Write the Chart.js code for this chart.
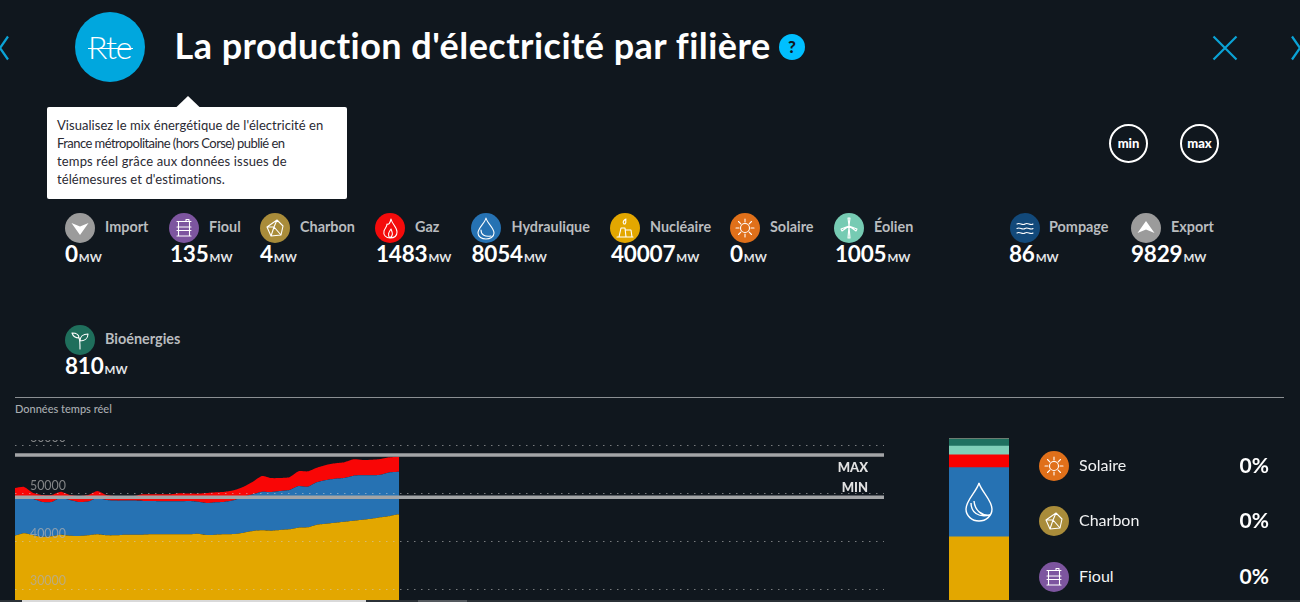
<!DOCTYPE html>
<html lang="fr">
<head>
<meta charset="utf-8">
<title>La production d'électricité par filière</title>
<script src="https://cdn.jsdelivr.net/npm/chart.js@4"></script>
<style>
html,body{margin:0;padding:0;background:#10171e;width:1300px;height:602px;overflow:hidden}
body{position:relative;font-family:Lato,"Noto Sans",sans-serif;color:#fff;font-variant-ligatures:none}
.a{position:absolute;white-space:nowrap}
.c{position:absolute;border-radius:50%}
.c svg{display:block;width:100%;height:100%}
canvas{position:absolute}
.lab{font-size:14.4px;font-weight:700;color:#b9bcbf;line-height:18px}
.val{font-size:22.5px;font-weight:700;color:#fff;line-height:26px;letter-spacing:-.2px}
.val small{font-size:11.5px;font-weight:700;color:#e4e6e8;margin-left:1px;letter-spacing:0}
</style>
</head>
<body>
<div class="c" style="left:75px;top:12px;width:70px;height:70px;background:#00a7de"></div>
<div class="a" style="left:88px;top:29px;font-size:32px;line-height:36px;letter-spacing:-1px;color:#fff;font-weight:300">Rte</div>
<div class="a" style="left:88px;top:47.5px;width:45px;height:1.5px;background:#fff"></div>
<div class="a" id="title" style="left:174.5px;top:24px;font-size:36px;line-height:42px;font-weight:700;letter-spacing:.48px">La production d'électricité par filière</div>
<div class="c" style="left:779px;top:34px;width:26px;height:26px;background:#00bfff;color:#10171e;font-weight:900;font-size:17px;line-height:26px;text-align:center">?</div>
<svg class="a" style="left:0;top:30px" width="1300" height="36" fill="none" stroke="#0ba3d6" stroke-width="2.2">
<path d="M8 6.5 L0 18 L8 29.5"/><path d="M1213.5 6.5 L1236.5 29.5 M1236.5 6.5 L1213.5 29.5"/><path d="M1292 6.5 L1300 18 L1292 29.5"/>
</svg>
<svg class="a" style="left:176px;top:95px" width="24" height="13"><path d="M0 12.5 L12 1 L24 12.5Z" fill="#fff"/></svg>
<div class="a" style="left:47px;top:107px;width:290px;height:92px;padding-left:10px;background:#fff;border-radius:2px;color:#2a2a33;font-size:13px;line-height:18px">
<div style="padding-top:9px"><span style="letter-spacing:.04px">Visualisez le mix énergétique de l'électricité en</span><br><span style="letter-spacing:-.55px">France métropolitaine (hors Corse) publié en</span><br><span style="letter-spacing:.15px">temps réel grâce aux données issues de</span><br><span style="letter-spacing:.1px">télémesures et d'estimations.</span></div></div>
<div class="c" style="left:1109px;top:124px;width:35px;height:35px;border:2px solid #fff;font-weight:900;font-size:13px;line-height:35px;text-align:center">min</div>
<div class="c" style="left:1180px;top:124px;width:35px;height:35px;border:2px solid #fff;font-weight:900;font-size:13px;line-height:35px;text-align:center">max</div>
<div id="head"></div>
<div class="a" style="left:15px;top:397px;width:1269px;height:1px;background:#8b8f93"></div>
<div class="a" style="left:15px;top:402px;font-size:11px;line-height:13px;color:#a9adb1;font-weight:500">Données temps réel</div>
<canvas id="area" width="869" height="160" style="left:15px;top:440px;width:869px;height:160px"></canvas>
<div class="a" style="right:432px;top:460px;font-size:13px;line-height:15px;font-weight:900;color:#e2e2e2">MAX</div>
<div class="a" style="right:432px;top:480px;font-size:13px;line-height:15px;font-weight:900;color:#e2e2e2">MIN</div>
<canvas id="mix" width="60" height="162" style="left:949px;top:438px;width:60px;height:162px"></canvas>
<svg class="a" style="left:962px;top:480px" width="34" height="44" viewBox="0 0 34 44" fill="none" stroke="#fff" stroke-width="1.4">
<path d="M17 3 C15 11 4 20 4 29 C4 36 10 41 17 41 C24 41 30 36 30 29 C30 20 19 11 17 3Z"/><path d="M9 23 C9 32 16 38 28 35 C20 36 13 31 12 21"/></svg>
<div id="side"></div>
<div class="a" style="left:0;top:600px;width:1300px;height:2px;background:#2b3137"></div>
<div class="a" style="left:22px;top:600px;width:344px;height:2px;background:#d9d9d9"></div>
<div class="a" style="left:418px;top:600px;width:49px;height:2px;background:#555a5f"></div>
<script>
// Header values (MW)
const headNames  = ['Import','Fioul','Charbon','Gaz','Hydraulique','Nucléaire','Solaire','Éolien','Pompage','Export','Bioénergies'];
const headValues = [0,135,4,1483,8054,40007,0,1005,86,9829,810];
// Side list
const sideNames  = ['Solaire','Charbon','Fioul'];
const sideShares = ['0%','0%','0%'];
// Time axis
const timeLabels = ['00:00','00:15','00:30','00:45','01:00','01:15','01:30','01:45','02:00','02:15','02:30','02:45','03:00','03:15','03:30','03:45','04:00','04:15','04:30','04:45','05:00','05:15','05:30','05:45','06:00','06:15','06:30','06:45','07:00','07:15','07:30','07:45','08:00','08:15','08:30','08:45','09:00','09:15','09:30','09:45','10:00','10:15','10:30','10:45','11:00','11:15','11:30','11:45','12:00','12:15','12:30','12:45','13:00','13:15','13:30','13:45','14:00','14:15','14:30','14:45','15:00','15:15','15:30','15:45','16:00','16:15','16:30','16:45','17:00','17:15','17:30','17:45','18:00','18:15','18:30','18:45','19:00','19:15','19:30','19:45','20:00','20:15','20:30','20:45','21:00','21:15','21:30','21:45','22:00','22:15','22:30','22:45','23:00','23:15','23:30','23:45'];
// Area series, stacked (MW)
const baseSeries = [41220,41710,41290,40940,41080,41430,41220,41150,41290,41500,41290,41290,41430,41430,41430,41500,41500,41500,41500,41500,41640,41360,41430,41500,41570,41840,42190,42330,42260,42400,42540,42890,42960,43510,43720,43930,44140,44350,44560,44770,45050,45320,45670];
const hydroSeries = [8070,7590,7590,7310,7170,7720,7450,7100,7040,7590,7380,7250,7110,7110,7030,6960,6900,6900,6900,6960,6670,6680,6760,6810,7100,7510,7660,8070,8070,8140,8210,8700,8480,8850,9120,9180,9120,9390,9260,9050,8900,9120,8900];
const gasSeries = [1880,2090,1250,1460,1460,1250,1040,1250,1380,1460,1040,960,960,960,1400,1400,1460,1460,1670,1550,1690,2090,2090,2090,2090,2090,2630,3280,2920,2710,2650,3070,3210,3050,3130,3220,3280,3420,3200,3260,3280,3130,3130];
const maxValues = [58050,58050];
const minValues = [49230,49230];
const yTicks = [30000,40000,50000,60000];
// Stacked mix bar (MW)
const mixNames  = ['Nucléaire','Hydraulique','Gaz','Éolien','Bioénergies','Charbon','Fioul'];
const mixValues = [40007,8054,1483,1005,810,4,135];

const colors = {Import:'#9b9b9b',Export:'#9b9b9b',Fioul:'#7d559f',Charbon:'#a98c3a',Gaz:'#f40b0b',Hydraulique:'#2672b3','Nucléaire':'#e3a700',Solaire:'#e0701a','Éolien':'#76cbb3',Pompage:'#12497a','Bioénergies':'#1f6f5c'};
const mixColors = ['#e3a700','#2672b3','#f90000','#7fcfb8','#1f7160','#a98c3a','#7d7f8c'];
const S='fill="none" stroke="#fff" stroke-width="1.1" stroke-linecap="round" stroke-linejoin="round"';
const icons = {
 Import:`<path d="M6.5 10 L15 13.5 L23.5 10 L15 22Z" fill="#fff"/>`,
 Export:`<path d="M6.5 20 L15 16.5 L23.5 20 L15 8Z" fill="#fff"/>`,
 Fioul:`<g ${S}><path d="M8 8.500H22M8 23H22M8 14H22M8 17.500H22M9.500 8.500V23M20.500 8.500V23M17 8.500V6.500H20V8.500"/></g>`,
 Charbon:`<g ${S}><path d="M7 14 L17 7 L23 13 L21 22 L11 23 Z M17 7 L14 14 L11 23 M14 14 L21 22 M7 14 L14 14"/></g>`,
 Gaz:`<g ${S}><path d="M16 6 C17 11 22 14 22 19 C22 23 19 25 15 25 C11 25 8 22 9 18 C10 15 12 14 12 11 C14 12 15 10 16 6Z M15 25 C12 22 14 19 16 16 C17 19 19 22 15 25"/></g>`,
 Hydraulique:`<g ${S}><path d="M15 5 C14 10 7 15 7 20 C7 24 11 26 15 26 C19 26 23 24 23 20 C23 15 16 10 15 5Z M10 17 C10 22 14 24 20 23"/></g>`,
 'Nucléaire':`<g ${S}><path d="M9 24 L11 15 H15 L16 24Z M16 24 H22 L21 17 H16 M7 24 H23 M14 11 C12 9 14 7 16 6 C15 8 17 9 15 11"/></g>`,
 Solaire:`<g ${S}><circle cx="15" cy="15" r="4.500"/><path d="M15 6V9M15 21V24M6 15H9M21 15H24M8.500 8.500L10.800 10.800M19.200 19.200L21.500 21.500M21.500 8.500L19.200 10.800M10.800 19.200L8.500 21.500"/></g>`,
 'Éolien':`<g ${S}><path d="M15 13 L16 25 H14 L15 13 M15 13 L14 5 L16 5Z M15 13 L23 16 L22 18Z M15 13 L7 16 L8 18Z"/></g>`,
 Pompage:`<g ${S}><path d="M7 11 C10 9 12 13 15 11 C18 9 20 13 23 11 M7 15.500 C10 13.500 12 17.500 15 15.500 C18 13.500 20 17.500 23 15.500 M7 20 C10 18 12 22 15 20 C18 18 20 22 23 20"/></g>`,
 'Bioénergies':`<g ${S}><path d="M15 24 C15 18 15 15 14 13 C11 13 8 11 7 8 C11 8 14 9 14 13 M15 16 C15 12 18 9 23 9 C23 14 19 16 15 16"/></g>`
};
const disc=(n,x,y,d)=>`<div class="c" style="left:${x}px;top:${y}px;width:${d}px;height:${d}px;background:${colors[n]}"><svg viewBox="0 0 30 30">${icons[n]}</svg></div>`;
const discX=[65,169,260,375,471,610,730,834,1010,1131,65];
const labelX=[105,209,300,415,511.5,650,770,874,1049,1171,105];
const valueX=[65,170,260,376,471.500,611,730,835,1009,1131,65];
const rowY=[213,213,213,213,213,213,213,213,213,213,325];
document.getElementById('head').innerHTML = headNames.map((n,i)=>
 disc(n,discX[i],rowY[i],30)+
 `<div class="a lab" style="left:${labelX[i]}px;top:${rowY[i]+5}px">${n}</div>`+
 `<div class="a val" style="left:${valueX[i]}px;top:${rowY[i]+28}px">${headValues[i]}<small>MW</small></div>`).join('');
const sideY=[451,506,562];
document.getElementById('side').innerHTML = sideNames.map((n,i)=>
 disc(n,1039,sideY[i],30)+
 `<div class="a" style="left:1079px;top:${sideY[i]+4}px;font-size:16px;line-height:20px;color:#f2f3f4">${n}</div>`+
 `<div class="a" style="right:31px;top:${sideY[i]+1}px;font-size:21px;line-height:25px;font-weight:700">${sideShares[i]}</div>`).join('');

Chart.defaults.animation=false;
const area = {fill:'origin',borderWidth:0,pointRadius:0,tension:0.2,stack:'mix'};
new Chart(document.getElementById('area'),{
 type:'line',
 data:{labels:timeLabels,datasets:[
  {...area,label:'Nucléaire',data:baseSeries,backgroundColor:'#e3a700',borderColor:'#e3a700',order:2},
  {...area,label:'Hydraulique',data:hydroSeries,fill:'-1',backgroundColor:'#2672b3',borderColor:'#2672b3',order:3},
  {...area,label:'Gaz',data:gasSeries,fill:'-1',backgroundColor:'#f90606',borderColor:'#f90606',order:4},
  {label:'MAX',stack:'max',data:[{x:timeLabels[0],y:maxValues[0]},{x:timeLabels[95],y:maxValues[1]}],borderColor:'#a3a5a7',borderWidth:3.4,pointRadius:0,fill:false,order:1},
  {label:'MIN',stack:'min',data:[{x:timeLabels[0],y:minValues[0]},{x:timeLabels[95],y:minValues[1]}],borderColor:'#a3a5a7',borderWidth:3.4,pointRadius:0,fill:false,order:1}
 ]},
 options:{responsive:false,maintainAspectRatio:false,layout:{padding:0},
  plugins:{legend:{display:false},tooltip:{enabled:false}},
  scales:{
   x:{display:false,offset:false},
   y:{stacked:true,min:27790,max:61190,
      afterBuildTicks:s=>{s.ticks=yTicks.map(v=>({value:v}));},
      afterFit:s=>{s.width=0;s.paddingTop=0;s.paddingBottom=0;},
      grid:{color:'rgba(205,205,205,.55)',lineWidth:1,drawTicks:false,z:1},
      border:{display:false,dash:[1.5,5.5]},
      ticks:{mirror:true,padding:15,labelOffset:-8,z:1,color:'rgba(175,175,175,.72)',font:{family:'Lato',size:12.4},callback:v=>String(v)}}
  }}
});
new Chart(document.getElementById('mix'),{
 type:'bar',
 data:{labels:['Mix'],datasets:mixNames.map((n,i)=>({label:n,data:[mixValues[i]],backgroundColor:mixColors[i],borderWidth:0,barPercentage:1,categoryPercentage:1}))},
 options:{responsive:false,maintainAspectRatio:false,layout:{padding:0},
  plugins:{legend:{display:false},tooltip:{enabled:false}},
  scales:{x:{display:false,stacked:true},y:{display:false,stacked:true,min:32680,max:51498}}}
});
</script>
</body>
</html>
